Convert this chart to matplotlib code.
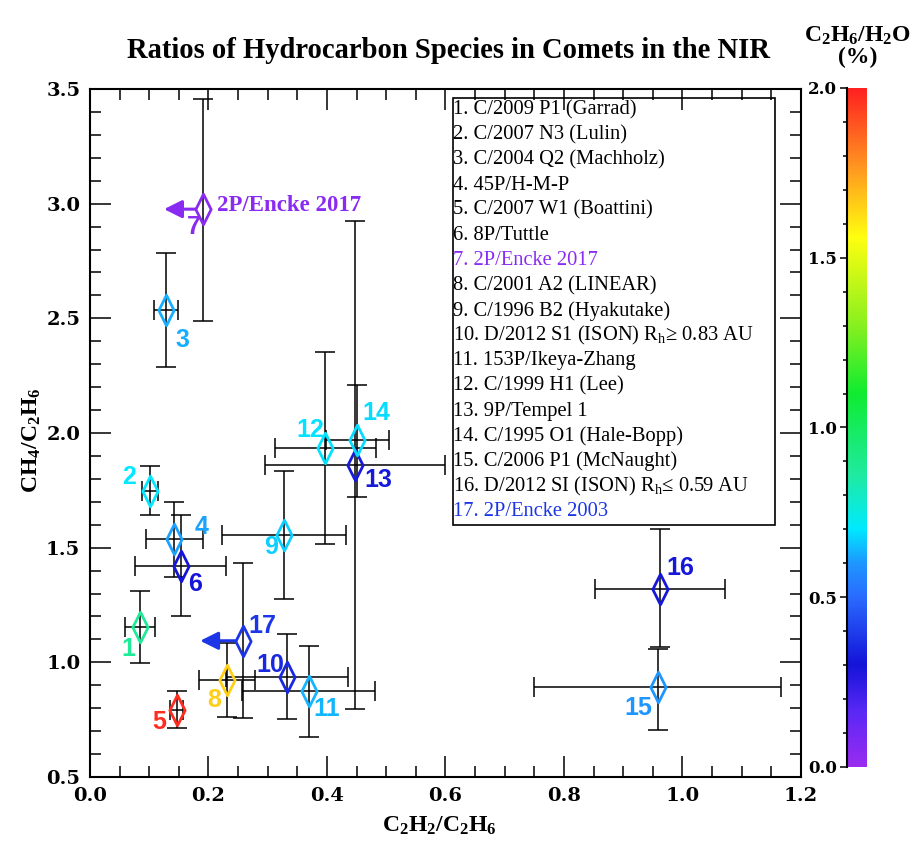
import numpy as np
import matplotlib
matplotlib.use('Agg')
import matplotlib.pyplot as plt
from matplotlib.path import Path
from matplotlib.colors import LinearSegmentedColormap, Normalize
from matplotlib.patches import Rectangle
from matplotlib.ticker import MultipleLocator

plt.rcParams['mathtext.default'] = 'regular'

# comet data: C2H2/C2H6 (x), CH4/C2H6 (y), C2H6/H2O in % (colour)
names = ['1. C/2009 P1 (Garrad)', '2. C/2007 N3 (Lulin)', '3. C/2004 Q2 (Machholz)',
         '4. 45P/H-M-P', '5. C/2007 W1 (Boattini)', '6. 8P/Tuttle', '7. 2P/Encke 2017',
         '8. C/2001 A2 (LINEAR)', '9. C/1996 B2 (Hyakutake)',
         '10. D/2012 S1 (ISON) R$_{h}$≥ 0.83 AU', '11. 153P/Ikeya-Zhang',
         '12. C/1999 H1 (Lee)', '13. 9P/Tempel 1', '14. C/1995 O1 (Hale-Bopp)',
         '15. C/2006 P1 (McNaught)', '16. D/2012 SI (ISON) R$_{h}$≤ 0.59 AU',
         '17. 2P/Encke 2003']
x = [0.084, 0.101, 0.128, 0.142, 0.146, 0.153, 0.190, 0.231, 0.327,
     0.333, 0.369, 0.397, 0.448, 0.451, 0.958, 0.962, 0.258]
xerr = [0.025, 0.014, 0.020, 0.048, 0.011, 0.077, 0.0, 0.047, 0.105,
        0.103, 0.112, 0.085, 0.152, 0.053, 0.209, 0.110, 0.0]
y = [1.155, 1.747, 2.537, 1.538, 0.792, 1.421, 2.976, 0.923, 1.555,
     0.937, 0.876, 1.933, 1.861, 1.970, 0.891, 1.319, 1.094]
yerr_lo = [0.157, 0.104, 0.248, 0.165, 0.080, 0.220, 0.486, 0.163, 0.277,
           0.185, 0.200, 0.418, 1.064, 0.248, 0.186, 0.251, 0.338]
yerr_hi = [0.157, 0.108, 0.247, 0.161, 0.083, 0.222, 0.481, 0.160, 0.281,
           0.185, 0.197, 0.420, 1.065, 0.239, 0.166, 0.261, 0.339]
c2h6_h2o = [0.88, 0.70, 0.63, 0.61, 1.97, 0.30, 0.04, 1.65, 0.67,
            0.35, 0.64, 0.69, 0.32, 0.68, 0.60, 0.31, 0.38]
# upper limits on C2H2/C2H6 (arrow length)
upper_idx = [6, 16]
upper_len = [0.065, 0.072]

# label offsets in pixels
lab_off = [(-11, -22), (-21, 14), (17, -30), (27, 12), (-17, -12), (14, -18),
           (-9, -18), (-13, -20), (-13, -12), (-17, 12), (18, -18), (-15, 18),
           (23, -15), (19, 27), (-19, -21), (20, 21), (20, 15)]

cmap = LinearSegmentedColormap.from_list('idl_rainbow', [
    (0.00, '#9a2cf0'), (0.08, '#5a28f5'), (0.15, '#1414d8'), (0.25, '#2a6cff'),
    (0.30, '#1e98ff'), (0.35, '#00eaff'), (0.43, '#20eaa0'), (0.55, '#10ec30'),
    (0.65, '#88f020'), (0.78, '#ffff10'), (0.88, '#ff9a20'), (1.00, '#ff2020')])
norm = Normalize(0, 2)

diamond = Path([(0, 1), (0.5, 0), (0, -1), (-0.5, 0), (0, 1)],
               [Path.MOVETO, Path.LINETO, Path.LINETO, Path.LINETO, Path.CLOSEPOLY])

fig = plt.figure(figsize=(9.12, 8.41), dpi=100)
ax = fig.add_axes([0.0987, 0.0761, 0.7795, 0.8181])

for i in range(len(x)):
    col = cmap(norm(c2h6_h2o[i]))
    xe = xerr[i] if xerr[i] > 0 else None
    ax.errorbar(x[i], y[i], xerr=xe, yerr=[[yerr_lo[i]], [yerr_hi[i]]],
                fmt='none', ecolor='black', elinewidth=1.1, capsize=7, capthick=1.1, zorder=2)
    ax.plot(x[i], y[i], marker=diamond, ms=22, mfc='none', mec=col, mew=2.0, zorder=3)
    ax.annotate(str(i + 1), (x[i], y[i]), xytext=lab_off[i], textcoords='offset pixels',
                ha='center', va='center', color=col, fontsize=18, fontweight='bold',
                family='Liberation Sans', zorder=4)

for i, ln in zip(upper_idx, upper_len):
    col = cmap(norm(c2h6_h2o[i]))
    ax.annotate('', xy=(x[i] - ln, y[i]), xytext=(x[i] - 0.012, y[i]),
                arrowprops=dict(arrowstyle='-|>', color=col, lw=2.2, mutation_scale=27,
                                shrinkA=0, shrinkB=0), zorder=4)

ax.annotate('2P/Encke 2017', (x[6], y[6]), xytext=(14, 4), textcoords='offset pixels',
            ha='left', va='center', color=cmap(norm(c2h6_h2o[6])), fontsize=16.5,
            fontweight='bold', family='Liberation Serif')

# legend box
ax.add_patch(Rectangle((0.612, 1.598), 0.5445, 1.863, fill=False, lw=1.2,
                       ec='black', zorder=5))
for i, nm in enumerate(names):
    col = 'black'
    if i in upper_idx:
        col = cmap(norm(c2h6_h2o[i]))
    ax.text(0.613, 3.409 - i * 0.1095, nm, ha='left', va='center', fontsize=14.8,
            family='Liberation Serif', color=col, zorder=5)

ax.set_xlim(0.0, 1.2)
ax.set_ylim(0.5, 3.5)
ax.xaxis.set_major_locator(MultipleLocator(0.2))
ax.xaxis.set_minor_locator(MultipleLocator(0.05))
ax.yaxis.set_major_locator(MultipleLocator(0.5))
ax.yaxis.set_minor_locator(MultipleLocator(0.1))
ax.xaxis.set_major_formatter(lambda v, p: '%.1f' % v)
ax.yaxis.set_major_formatter(lambda v, p: '%.1f' % v)
ax.tick_params(which='both', direction='in', top=True, right=True, width=1.1)
ax.tick_params(which='major', length=15, labelsize=14, pad=7)
ax.tick_params(which='minor', length=8)
for lab in ax.get_xticklabels() + ax.get_yticklabels():
    lab.set_family('DejaVu Serif')
    lab.set_fontweight('bold')
for s in ax.spines.values():
    s.set_linewidth(1.5)

fig.text(0.492, 0.940, 'Ratios of Hydrocarbon Species in Comets in the NIR', ha='center',
         va='center', fontsize=20.6, fontweight='bold', family='Liberation Serif')
fig.text(0.482, 0.018, 'C$_2$H$_2$/C$_2$H$_6$', ha='center', va='center', fontsize=17,
         fontweight='bold', family='Liberation Serif')
fig.text(0.035, 0.477, 'CH$_4$/C$_2$H$_6$', ha='center', va='center', rotation=90,
         fontsize=17, fontweight='bold', family='Liberation Serif')

# colour bar
cax = fig.add_axes([0.9287, 0.088, 0.021, 0.8074])
grad = np.linspace(0, 2, 256).reshape(-1, 1)
cax.imshow(grad, cmap=cmap, norm=norm, aspect='auto', origin='lower', extent=[0, 1, 0, 2])
cax.set_xlim(0, 1)
cax.set_ylim(0, 2)
cax.set_xticks([])
cax.yaxis.set_major_locator(MultipleLocator(0.5))
cax.yaxis.set_minor_locator(MultipleLocator(0.1))
cax.yaxis.set_major_formatter(lambda v, p: '%.1f' % v)
cax.tick_params(which='both', direction='out', width=1.1)
cax.tick_params(which='major', length=5, labelsize=12, pad=2)
cax.tick_params(which='minor', length=3)
for lab in cax.get_yticklabels():
    lab.set_family('DejaVu Serif')
    lab.set_fontweight('bold')
for k in ['top', 'right', 'bottom']:
    cax.spines[k].set_visible(False)
cax.spines['left'].set_linewidth(1.5)
fig.text(0.940, 0.945, 'C$_2$H$_6$/H$_2$O\n(%)', ha='center', va='center', fontsize=17,
         fontweight='bold', family='Liberation Serif', linespacing=1.0)

fig.savefig('out.png', dpi=100)
